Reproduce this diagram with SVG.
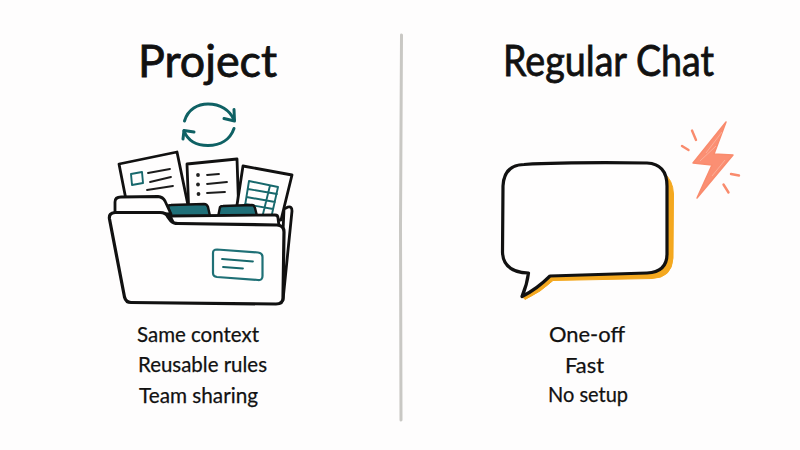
<svg xmlns="http://www.w3.org/2000/svg" width="800" height="450" viewBox="0 0 800 450">
  <style>
    text { font-family: "Lato", "Noto Sans", sans-serif; fill: #111; stroke: #111; }
    .title { font-size: 45px; stroke-width: 0.8px; }
    .item { font-size: 21px; stroke-width: 0.25px; }
    .ink { fill: none; stroke: #141414; stroke-width: 3; stroke-linecap: round; stroke-linejoin: round; }
    .sheet { fill: #fffefe; stroke: #111; stroke-width: 2.8; stroke-linejoin: round; }
    .rule { fill: none; stroke: #1c1c1c; stroke-width: 1.8; stroke-linecap: round; }
    .teal { fill: none; stroke: #17686c; stroke-width: 1.9; stroke-linecap: round; stroke-linejoin: round; }
    .tab { fill: #1f6f78; stroke: #111; stroke-width: 2.4; stroke-linejoin: round; }
    .ray { fill: none; stroke: #f98b6d; stroke-width: 2.4; stroke-linecap: round; }
  </style>
  <rect width="800" height="450" fill="#fefdfd"/>

  <g id="divider"><path d="M401.5 35 L400.5 225 L401 420" fill="none" stroke="#c9c8c4" stroke-width="3" stroke-linecap="round"/></g>

  <g id="project-title"><text class="title" x="138" y="77" textLength="139" lengthAdjust="spacingAndGlyphs">Project</text></g>
  <g id="chat-title"><text class="title" style="font-size:42px" x="503" y="76" textLength="211" lengthAdjust="spacingAndGlyphs">Regular Chat</text></g>

  <g id="sync-arrows" fill="none" stroke="#0f6164" stroke-width="3" stroke-linecap="round" stroke-linejoin="round">
    <path d="M184.500 121 C188 109 198 104 208 104 C220 104 230 110 234 120"/>
    <path d="M234 109.500 L234.500 121 L224 118.500"/>
    <path d="M234 128.500 C230 140 220 145.500 208 145.500 C197 145.500 188 141 184 131"/>
    <path d="M183 139 L184 130.500 L194 132"/>
  </g>

  <g id="folder">
    <path d="M283 300 L292 211 Q292 206 288 207 L284 209 L280 300 Z" fill="#fffefe" stroke="#111" stroke-width="2.800" stroke-linejoin="round"/>

    <g id="document-card">
      <path class="sheet" d="M119 164 L177 152 L190 215 L130 220 Z"/>
      <path class="teal" d="M131 174 L142 172 L143 183 L132 185 Z"/>
      <path class="rule" d="M148 173 L170 169 M150 182 L171 177 M147 190 L173 186"/>
    </g>
    <g id="document-list">
      <path class="sheet" d="M187 164 L237 159 L239 218 L189 218 Z"/>
      <g fill="#222"><circle cx="198" cy="175" r="1.9"/><circle cx="198" cy="184.500" r="1.9"/><circle cx="198.500" cy="194" r="1.900"/></g>
      <path class="rule" d="M207 175 L219 174 M207 184 L227 182 M207 193 L225 192"/>
    </g>
    <g id="document-table">
      <path class="sheet" d="M243 166 L292 175 L281 220 L235 218 Z"/>
      <path class="teal" d="M249 181 L278 187 L272 214 M249 181 L244 212 M248 189 L277 194 M246.500 197 L275 202 M245 204 L273 209 M270 185.500 L263 214"/>
    </g>

    <path class="tab" d="M168 207 Q168 205 171 205 L204 204 Q207 204 208 207 L210 216 L172 219 Z"/>
    <path class="tab" d="M220 207 Q221 206 223 206 L252 205 Q254 205 255 208 L257 216 L218 217 Z"/>

    <path d="M115 213 L115 202 Q115 197 121 197 L158 196.500 Q163 197 165 201 L171 214 Z" fill="#fffefe" stroke="#111" stroke-width="2.800" stroke-linejoin="round"/>
    <path d="M170 216 L275 215 Q278 215 278 218 L279 226 L174 224 Z" fill="#fffefe" stroke="#111" stroke-width="2.800" stroke-linejoin="round"/>

    <path d="M109.500 219 Q108.500 213 115 212.500 L160 212.500 Q166 212.500 168 217 L171 221 Q173 223.500 178 223.500 L277 225 Q284 225.500 284 232 L283 298 Q283 304 276 304 L131 302.500 Q126 302.500 124.500 297 Z" fill="#fffefe" stroke="#111" stroke-width="3.200" stroke-linejoin="round"/>

    <g id="folder-label">
      <path d="M213 253 Q213 249.500 217 249.500 L258 252.500 Q262.500 253 262.500 257 L262.500 276 Q262.500 280.500 258 280 L217 277 Q213 276.500 213 273 Z" fill="none" stroke="#1f7076" stroke-width="2.200"/>
      <path d="M222 259 L253 261.500 M223 267 L243 268.500" fill="none" stroke="#17686c" stroke-width="1.800" stroke-linecap="round"/>
    </g>
  </g>

  <g id="project-list">
    <text class="item" x="137" y="342" textLength="122" lengthAdjust="spacingAndGlyphs">Same context</text>
    <text class="item" x="138" y="372" textLength="129" lengthAdjust="spacingAndGlyphs">Reusable rules</text>
    <text class="item" x="139" y="403" textLength="119" lengthAdjust="spacingAndGlyphs">Team sharing</text>
  </g>

  <g id="speech-bubble">
    <path d="M663 172 Q673 180 673.500 194 L673 258 Q672 278 652 278.500 L553 280.500 Q541 292 525 299.500 L522 296 L550 276 L660 265 Z" fill="#f4a81f" stroke="#f4a81f" stroke-width="1" stroke-linejoin="round"/>
    <path d="M524 164.500 Q570 162 647 163 Q667 164 667 186 L667 254 Q667 272 647 273 L550 276 Q537 289 522 296.500 Q527 285 528.500 273 Q503 272 502.500 252 L503 186 Q504 165 524 164.500 Z" fill="#fffefe" stroke="#111" stroke-width="3.200" stroke-linejoin="round"/>
  </g>

  <g id="lightning">
    <path d="M726 122 L693 163 L712 165 L697 198 L733 155 L714 154 Z" fill="#fb8f73" stroke="#f98b6d" stroke-width="1.500" stroke-linejoin="round"/>
    <path d="M722 132 L706 153 M700 161 L716 146 M712 176 L725 160" fill="none" stroke="#fcae98" stroke-width="1"/>
    <path class="ray" d="M692 130.500 L696 140 M682 146 L688.500 150 M731 174 L739 175.500 M723.500 184.500 L728.500 192.500"/>
  </g>

  <g id="chat-list">
    <text class="item" x="549" y="342" textLength="76" lengthAdjust="spacingAndGlyphs">One-off</text>
    <text class="item" x="565" y="373" textLength="39" lengthAdjust="spacingAndGlyphs">Fast</text>
    <text class="item" x="548" y="402" textLength="80" lengthAdjust="spacingAndGlyphs">No setup</text>
  </g>
</svg>
